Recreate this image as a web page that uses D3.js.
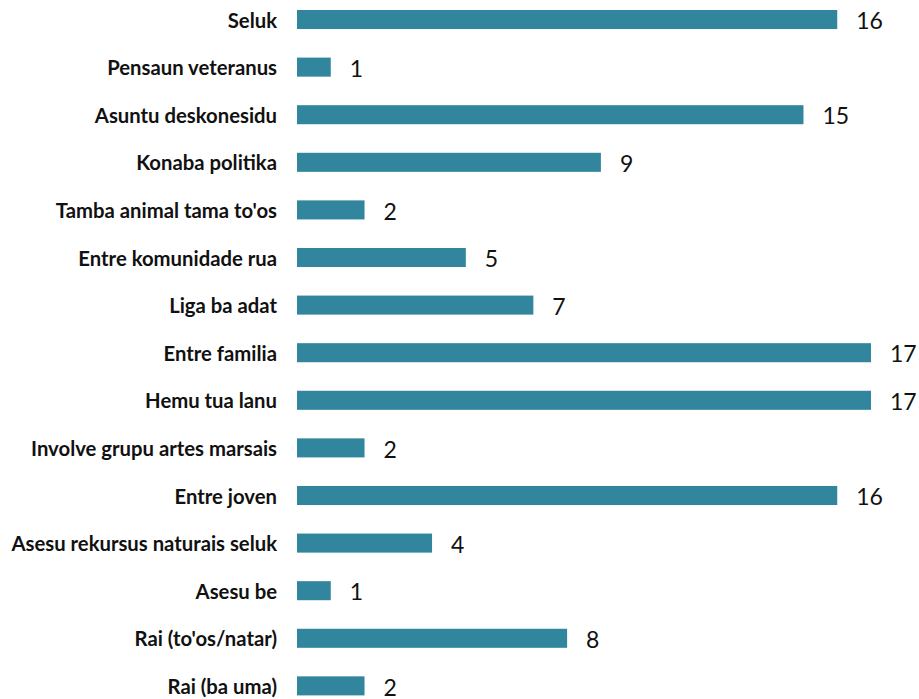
<!DOCTYPE html>
<html><head><meta charset="utf-8">
<script src="https://cdn.jsdelivr.net/npm/d3@7"></script>
<style>body{margin:0;background:#fff}</style>
</head><body>
<svg id="c" width="919" height="699"></svg>
<script>
const categories = ["Seluk","Pensaun veteranus","Asuntu deskonesidu","Konaba politika","Tamba animal tama to'os","Entre komunidade rua","Liga ba adat","Entre familia","Hemu tua lanu","Involve grupu artes marsais","Entre joven","Asesu rekursus naturais seluk","Asesu be","Rai (to'os/natar)","Rai (ba uma)"];
const values = [16,1,15,9,2,5,7,17,17,2,16,4,1,8,2];

const svg = d3.select("#c");
const x = d3.scaleLinear().domain([0,17]).range([297,871]);
const y = d3.scaleBand().domain(categories).range([10,695.4]).paddingInner(0.6).paddingOuter(0);
const data = categories.map((c,i)=>({c,v:values[i]}));

svg.selectAll("rect.bar").data(data).join("rect")
  .attr("class","bar")
  .attr("x",x(0)).attr("y",d=>y(d.c))
  .attr("width",d=>x(d.v)-x(0)).attr("height",y.bandwidth())
  .attr("fill","#31859C");

svg.selectAll("text.val").data(data).join("text")
  .attr("class","val")
  .attr("x",d=>x(d.v)+19).attr("y",d=>y(d.c)+y.bandwidth()/2+1.5)
  .attr("dy","0.36em")
  .attr("font-family","Lato, 'Open Sans', sans-serif").attr("font-size",23)
  .attr("fill","#111").text(d=>d.v);

const yAxis = d3.axisLeft(y).tickSize(0).tickPadding(0);
const g = svg.append("g").attr("transform","translate(277,0)").call(yAxis);
g.select(".domain").remove();
g.selectAll("text").attr("font-family","Lato, 'Open Sans', sans-serif")
  .attr("font-size",20.3).attr("font-weight","bold").attr("fill","#111")
  .attr("dy","0.4em");
</script>
</body></html>
